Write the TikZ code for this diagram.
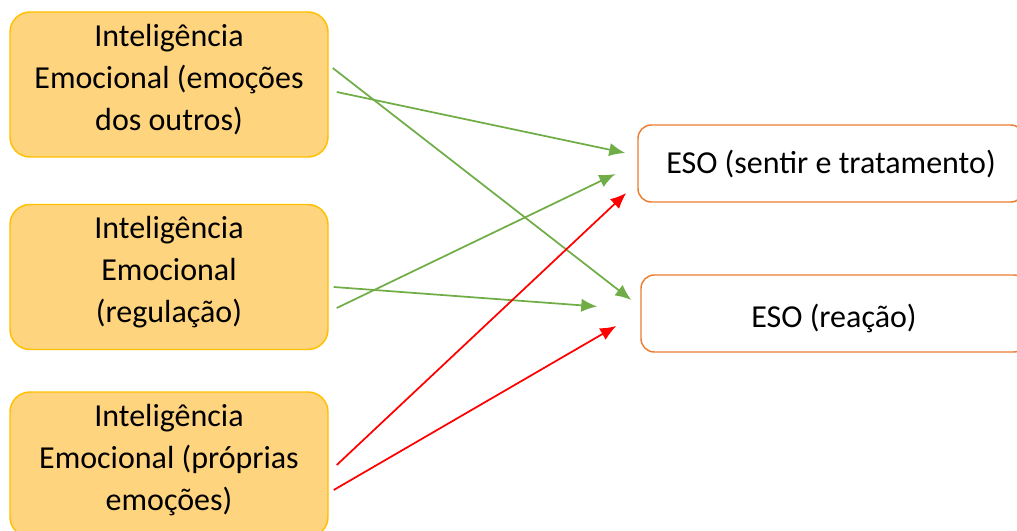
\documentclass[tikz,border=0pt]{standalone}
\usepackage{fontspec}
\setmainfont{Carlito}
\usepackage{tikz}
\usetikzlibrary{arrows.meta}

\definecolor{boxfill}{HTML}{FFD47F}
\definecolor{boxline}{HTML}{FFC000}
\definecolor{esoline}{HTML}{ED7D31}
\definecolor{arrgreen}{HTML}{70AD47}
\definecolor{arrred}{HTML}{FF0000}

% move the text inside a box without changing the box
\newcommand{\liftText}[2]{\raisebox{#1}[\height][\depth]{\begin{tabular}{@{}c@{}}#2\end{tabular}}}

\begin{document}
\begin{tikzpicture}[x=0.75pt, y=-0.75pt,
    ieBox/.style={draw=boxline, fill=boxfill, line width=1.1pt, rounded corners=15pt,
        minimum width=238.5pt, minimum height=108.75pt, align=center, inner sep=0pt,
        font=\fontsize{24}{31.5}\selectfont},
    esoBox/.style={draw=esoline, fill=white, line width=1.1pt, rounded corners=10pt,
        minimum width=289.5pt, minimum height=57.75pt, inner sep=0pt,
        font=\fontsize{24}{31.5}\selectfont},
    greenArr/.style={draw=arrgreen, line width=1.3pt, -{Latex[length=12pt,width=10pt]}},
    redArr/.style={draw=arrred, line width=1.3pt, -{Latex[length=12pt,width=10pt]}}]
        \useasboundingbox (0,0) rectangle (1017,531);

        % --- Draw the three source boxes ---
        \node[ieBox] (ieOutros) at (169,84.5) {\liftText{3.5pt}{Inteligência\\Emocional (emoções\\dos outros)}};
        \node[ieBox] (ieRegul) at (169,277) {\liftText{3.5pt}{Inteligência\\Emocional\\(regulação)}};
        \node[ieBox] (iePropr) at (169,464.5) {\liftText{3.5pt}{Inteligência\\Emocional (próprias\\emoções)}};
        % ---

        % --- Draw the two target boxes ---
        \node[esoBox] (esoSentir) at (831,163.5) {\liftText{-1pt}{ESO (sentir e tratamento)}};
        \node[esoBox] (esoReacao) at (834,313.5) {\liftText{-4pt}{ESO (reação)}};
        % ---

        % --- Draw green arrows ---
        \draw[greenArr] ([shift={(4,-16.5)}]ieOutros.east) -- ([shift={(-9,-13.5)}]esoReacao.west);
        \draw[greenArr] ([shift={(8,7.5)}]ieOutros.east) -- ([shift={(-12,-10.5)}]esoSentir.west);
        \draw[greenArr] ([shift={(8,31)}]ieRegul.east) -- ([shift={(-22,10.5)}]esoSentir.west);
        \draw[greenArr] ([shift={(5,10)}]ieRegul.east) -- ([shift={(-43,-7)}]esoReacao.west);
        % ---

        % --- Draw red arrows ---
        \draw[redArr] ([shift={(8,0.5)}]iePropr.east) -- ([shift={(-11,29.5)}]esoSentir.west);
        \draw[redArr] ([shift={(5,25.5)}]iePropr.east) -- ([shift={(-24,12.5)}]esoReacao.west);
        % ---
    \end{tikzpicture}
\end{document}
